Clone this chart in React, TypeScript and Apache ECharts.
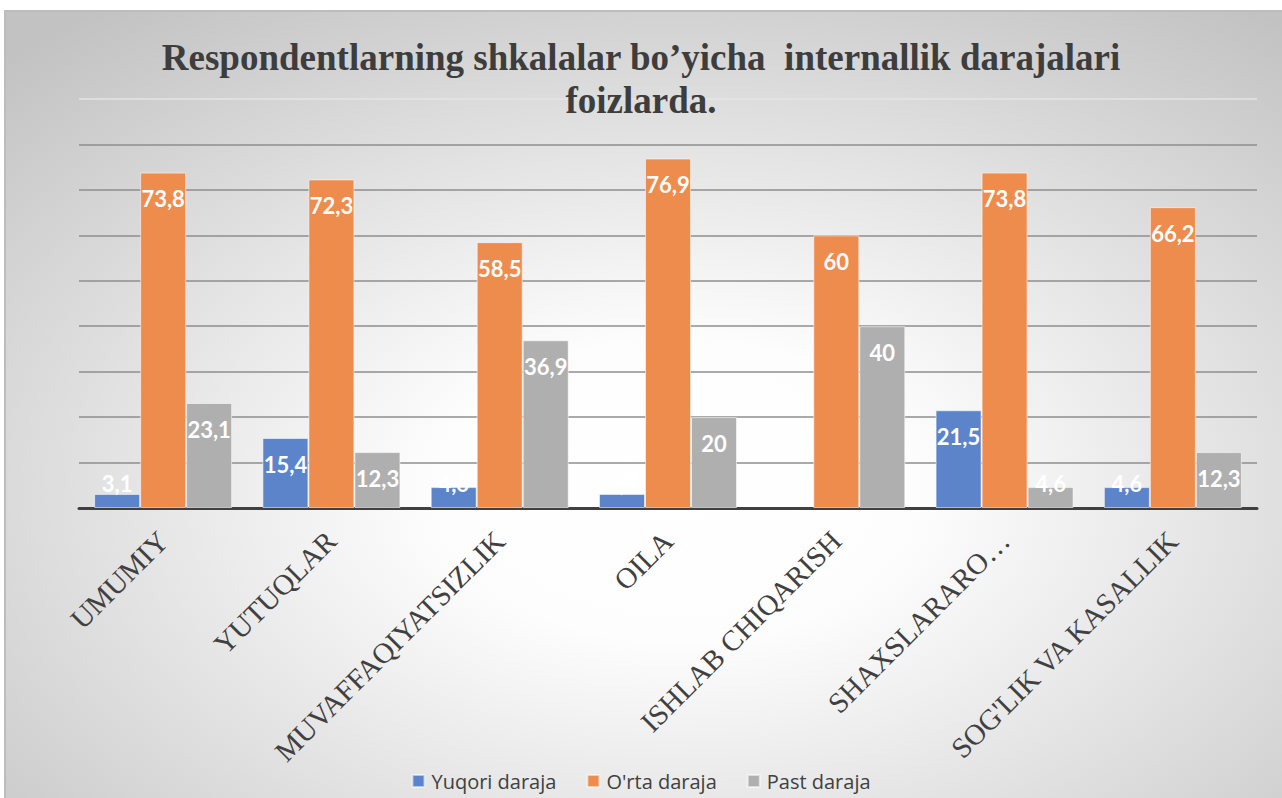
import React, { useEffect, useRef } from "react";
import * as echarts from "echarts";

const titleText = "Respondentlarning shkalalar bo\u2019yicha  internallik darajalari\nfoizlarda.";
const categories = [
  "UMUMIY",
  "YUTUQLAR",
  "MUVAFFAQIYATSIZLIK",
  "OILA",
  "ISHLAB CHIQARISH",
  "SHAXSLARARO\u2026",
  "SOG'LIK VA KASALLIK",
];
const seriesNames = ["Yuqori daraja", "O'rta daraja", "Past daraja"];
const yuqori = [3.1, 15.4, 4.6, 3.1, 0, 21.5, 4.6];
const orta = [73.8, 72.3, 58.5, 76.9, 60, 73.8, 66.2];
const past = [23.1, 12.3, 36.9, 20, 40, 4.6, 12.3];
const colors = ["#5b84cb", "#ee8c4e", "#afafaf"];

export default function App() {
  const ref = useRef<HTMLDivElement>(null);
  useEffect(() => {
    document.body.style.margin = "0";
    if (!ref.current) return;
    const chart = echarts.init(ref.current, undefined, { renderer: "svg" });
    const makeData = (vals: number[]) =>
      vals.map((v) => {
        const item: any = { value: v };
        if (v === 0) {
          item.itemStyle = { borderWidth: 0 };
          item.label = { show: false };
        } else if (v < 10) {
          item.label = { position: "insideBottom", distance: 14 };
        }
        return item;
      });
    const allSeries = [yuqori, orta, past].map((vals, i) => ({
      name: seriesNames[i],
      type: "bar",
      data: makeData(vals),
      barGap: "0%",
      barCategoryGap: "18%",
      itemStyle: {
        color: colors[i],
        borderColor: "rgba(255,255,255,0.55)",
        borderWidth: 1,
      },
      label: {
        show: true,
        position: "insideTop",
        distance: 15,
        color: "#ffffff",
        fontFamily: "Lato",
        fontWeight: "bold",
        fontSize: 22,
        formatter: (p: any) => (p.value === 0 ? "" : String(p.value).replace(".", ",")),
      },
    }));
    const gridColors = [
      "#8e8e8e", "#8e8e8e", "#8e8e8e", "#8e8e8e", "#8e8e8e",
      "#8e8e8e", "#8e8e8e", "#8e8e8e", "#8e8e8e", "#e4e4e4",
    ];
    chart.setOption({
      animation: false,
      graphic: [
        {
          type: "rect",
          z: -10,
          silent: true,
          shape: { x: 5, y: 11, width: 1290, height: 800 },
          style: {
            fill: new echarts.graphic.RadialGradient(0.52, 0.6, 0.75, [
              { offset: 0, color: "#ffffff" },
              { offset: 0.25, color: "#fdfdfd" },
              { offset: 1, color: "#c2c2c2" },
            ]),
            stroke: "#bdbdbd",
            lineWidth: 2,
          },
        },
      ],
      title: {
        text: titleText,
        left: "center",
        top: 36,
        padding: 0,
        textStyle: {
          fontFamily: "Liberation Serif",
          fontWeight: "bold",
          fontSize: 37,
          lineHeight: 43,
          color: "#3d3d3d",
        },
      },
      legend: {
        bottom: 2,
        left: "center",
        itemWidth: 12,
        itemHeight: 12,
        itemGap: 30,
        icon: "rect",
        textStyle: {
          fontFamily: "Open Sans",
          fontSize: 20,
          color: "#404040",
          padding: [0, 0, 0, 2],
        },
        data: seriesNames,
      },
      grid: { left: 79, right: 25, top: 99, bottom: 290, containLabel: false },
      xAxis: {
        type: "category",
        data: categories,
        axisTick: { show: false },
        axisLine: { show: true, lineStyle: { color: "#404040", width: 3 } },
        axisLabel: {
          rotate: 45,
          margin: 28,
          interval: 0,
          fontFamily: "Liberation Serif",
          fontSize: 29,
          color: "#404040",
        },
      },
      yAxis: {
        type: "value",
        min: 0,
        max: 90,
        interval: 10,
        axisLabel: { show: false },
        axisLine: { show: false },
        axisTick: { show: false },
        splitLine: { show: true, lineStyle: { color: gridColors, width: 1.5 } },
      },
      series: allSeries,
    });
    return () => chart.dispose();
  }, []);
  return <div ref={ref} style={{ width: 1282, height: 798 }} />;
}
